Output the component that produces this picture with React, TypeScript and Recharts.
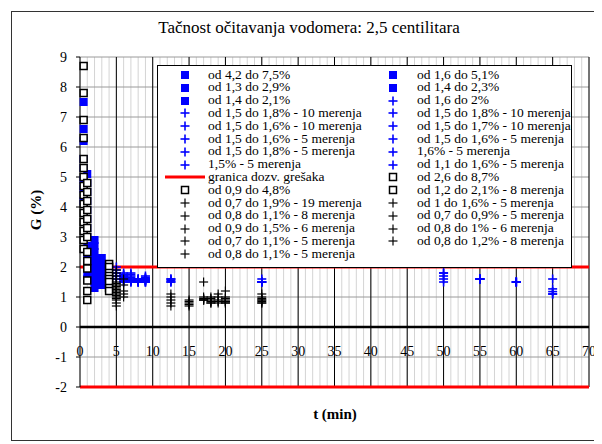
import React from 'react';
import { ScatterChart, Scatter, XAxis, YAxis, CartesianGrid, ReferenceLine } from 'recharts';

// x ticks (labelled every 5 min) and y ticks
const xLabelTicks = [0, 5, 10, 15, 20, 25, 30, 35, 40, 45, 50, 55, 60, 65, 70];
const yTicks = [-2, -1, 0, 1, 2, 3, 4, 5, 6, 7, 8, 9];
const limitValues = [2, -2];

// blue filled squares
const bs42_75 = [[0.5, 7.5], [0.5, 6.6], [0.5, 6.2], [0.5, 5.6], [0.5, 5.3], [0.5, 4.9], [0.5, 4.6], [0.5, 4.2]];
const bs16_51 = [[1, 5.1], [1, 4.8], [1, 4.5], [1, 4.2], [1, 3.9], [1, 3.6], [1, 3.3], [1, 3.0], [1, 2.7], [1, 2.4], [1, 2.1], [1, 1.8], [1, 1.6]];
const bs13_29 = [[2, 2.9], [2, 2.7], [2, 2.5], [2, 2.3], [2, 2.1], [2, 1.9], [2, 1.7], [2, 1.5], [2, 1.3]];
const bs14_23 = [[3, 2.3], [3, 2.1], [3, 1.9], [3, 1.8], [3, 1.6], [3, 1.5], [3, 1.4]];
const bs14_21 = [[4, 2.1], [4, 1.9], [4, 1.8], [4, 1.6], [4, 1.5], [4, 1.4]];

// blue pluses
const bp16_20 = [[5, 2.0], [5, 1.9], [5, 1.8], [5, 1.7], [5, 1.6]];
const bp15_18a = [[6, 1.8], [6, 1.75], [6, 1.7], [6, 1.7], [6, 1.65], [6, 1.6], [6, 1.6], [6, 1.55], [6, 1.5], [6, 1.5]];
const bp15_18b = [[7, 1.8], [7, 1.75], [7, 1.7], [7, 1.65], [7, 1.6], [7, 1.6], [7, 1.55], [7, 1.55], [7, 1.5], [7, 1.5]];
const bp15_16a = [[8, 1.6], [8, 1.6], [8, 1.6], [8, 1.55], [8, 1.55], [8, 1.55], [8, 1.5], [8, 1.5], [8, 1.5], [8, 1.5]];
const bp15_17 = [[9, 1.7], [9, 1.65], [9, 1.6], [9, 1.6], [9, 1.6], [9, 1.55], [9, 1.55], [9, 1.5], [9, 1.5], [9, 1.5]];
const bp15_16b = [[12.5, 1.6], [12.5, 1.6], [12.5, 1.55], [12.5, 1.5], [12.5, 1.5]];
const bp15_16c = [[25, 1.6], [25, 1.5], [25, 1.5], [25, 1.5], [25, 1.5]];
const bp15_18c = [[50, 1.8], [50, 1.8], [50, 1.7], [50, 1.6], [50, 1.5]];
const bp16 = [[55, 1.6], [55, 1.6], [55, 1.6], [55, 1.6], [55, 1.6]];
const bp15 = [[60, 1.5], [60, 1.5], [60, 1.5], [60, 1.5], [60, 1.5]];
const bp11_16 = [[65, 1.6], [65, 1.27], [65, 1.18], [65, 1.1], [65, 1.1]];

// black open squares
const ks26_87 = [[0.5, 8.7], [0.5, 7.8], [0.5, 6.9], [0.5, 6.3], [0.5, 5.6], [0.5, 5.3], [0.5, 5.0], [0.5, 4.7], [0.5, 4.4], [0.5, 4.1], [0.5, 3.8], [0.5, 3.5], [0.5, 3.2], [0.5, 2.9], [0.5, 2.6]];
const ks09_48 = [[1, 4.8], [1, 4.5], [1, 4.2], [1, 3.9], [1, 3.6], [1, 3.3], [1, 3.0], [1, 2.5], [1, 2.2], [1, 1.95], [1, 1.55], [1, 1.2], [1, 0.9]];
const ks12_21 = [[4, 2.1], [4, 2.0], [4, 1.8], [4, 1.7], [4, 1.6], [4, 1.5], [4, 1.3], [4, 1.2]];

// black pluses
const kp07_19 = [[5, 1.9], [5, 1.8], [5, 1.7], [5, 1.6], [5, 1.5], [5, 1.45], [5, 1.4], [5, 1.35], [5, 1.3], [5, 1.25], [5, 1.2], [5, 1.15], [5, 1.1], [5, 1.05], [5, 1.0], [5, 0.95], [5, 0.9], [5, 0.8], [5, 0.7]];
const kp10_16 = [[6, 1.6], [6, 1.4], [6, 1.2], [6, 1.1], [6, 1.0]];
const kp08_11a = [[25, 1.1], [25, 1.0], [25, 0.95], [25, 0.9], [25, 0.9], [25, 0.85], [25, 0.8], [25, 0.8]];
const kp07_09 = [[15, 0.9], [15, 0.85], [15, 0.8], [15, 0.75], [15, 0.7]];
const kp09_15 = [[17, 1.5], [17, 1.0], [17, 0.95], [17, 0.9], [17, 0.9], [17, 0.9]];
const kp08_10 = [[18, 1.0], [18, 0.95], [18, 0.9], [18, 0.85], [18, 0.8], [18, 0.8]];
const kp07_11 = [[12.5, 1.1], [12.5, 1.0], [12.5, 0.9], [12.5, 0.8], [12.5, 0.7]];
const kp08_12 = [[20, 1.2], [20, 1.0], [20, 0.95], [20, 0.9], [20, 0.85], [20, 0.85], [20, 0.8], [20, 0.8]];
const kp08_11b = [[19, 1.1], [19, 1.0], [19, 0.9], [19, 0.85], [19, 0.8]];

const BLUE = '#0000ff';
const RED = '#ff0000';
const FONT = 'Liberation Serif';

const toPts = (arr: number[][]) => arr.map(([t, g]) => ({ t, g }));

const BlueSquare = (p: any) => <rect x={p.cx - 4} y={p.cy - 4} width={8} height={8} fill={BLUE} />;
const OpenSquare = (p: any) => (
  <rect x={p.cx - 3.5} y={p.cy - 3.5} width={7} height={7} fill="#fff" stroke="#000" strokeWidth={1.5} />
);
const plus = (color: string, w: number) => (p: any) => (
  <g stroke={color} strokeWidth={w}>
    <line x1={p.cx - 4.5} x2={p.cx + 4.5} y1={p.cy} y2={p.cy} />
    <line x1={p.cx} x2={p.cx} y1={p.cy - 4.5} y2={p.cy + 4.5} />
  </g>
);
const BluePlus = plus(BLUE, 1.6);
const BlackPlus = plus('#000', 1.2);

const blueSquares = [bs42_75, bs16_51, bs13_29, bs14_23, bs14_21];
const bluePluses = [bp16_20, bp15_18a, bp15_18b, bp15_16a, bp15_17, bp15_16b, bp15_16c, bp15_18c, bp16, bp15, bp11_16];
const blackSquares = [ks26_87, ks09_48, ks12_21];
const blackPluses = [kp07_19, kp10_16, kp08_11a, kp07_09, kp09_15, kp08_10, kp07_11, kp08_12, kp08_11b];

const minorX = Array.from({ length: 71 }, (_, i) => i);

// legend: [marker, label]
const legendLeft = [
  ['bs', 'od 4,2 do 7,5%'],
  ['bs', 'od 1,3 do 2,9%'],
  ['bs', 'od 1,4 do 2,1%'],
  ['bp', 'od 1,5 do 1,8% - 10 merenja'],
  ['bp', 'od 1,5 do 1,6% - 10 merenja'],
  ['bp', 'od 1,5 do 1,6% - 5 merenja'],
  ['bp', 'od 1,5 do 1,8% - 5 merenja'],
  ['bp', '1,5% - 5 merenja'],
  ['line', 'granica dozv. grešaka'],
  ['ks', 'od 0,9 do 4,8%'],
  ['kp', 'od 0,7 do 1,9% - 19 merenja'],
  ['kp', 'od 0,8 do 1,1% - 8 merenja'],
  ['kp', 'od 0,9 do 1,5% - 6 merenja'],
  ['kp', 'od 0,7 do 1,1% - 5 merenja'],
  ['kp', 'od 0,8 do 1,1% - 5 merenja'],
];
const legendRight = [
  ['bs', 'od 1,6 do 5,1%'],
  ['bs', 'od 1,4 do 2,3%'],
  ['bp', 'od 1,6 do 2%'],
  ['bp', 'od 1,5 do 1,8% - 10 merenja'],
  ['bp', 'od 1,5 do 1,7% - 10 merenja'],
  ['bp', 'od 1,5 do 1,6% - 5 merenja'],
  ['bp', '1,6% - 5 merenja'],
  ['bp', 'od 1,1 do 1,6% - 5 merenja'],
  ['ks', 'od 2,6 do 8,7%'],
  ['ks', 'od 1,2 do 2,1% - 8 merenja'],
  ['kp', 'od 1 do 1,6% - 5 merenja'],
  ['kp', 'od 0,7 do 0,9% - 5 merenja'],
  ['kp', 'od 0,8 do 1% - 6 merenja'],
  ['kp', 'od 0,8 do 1,2% - 8 merenja'],
];

function LegendMarker({ kind }: { kind: string }) {
  const c = { cx: 20, cy: 6 };
  return (
    <svg width={40} height={12} style={{ position: 'absolute', left: -20, top: -6, overflow: 'visible' }}>
      {kind === 'bs' && <BlueSquare {...c} />}
      {kind === 'bp' && <BluePlus {...c} />}
      {kind === 'ks' && <OpenSquare {...c} />}
      {kind === 'kp' && <BlackPlus {...c} />}
      {kind === 'line' && <line x1={0} x2={40} y1={6} y2={6} stroke={RED} strokeWidth={3} />}
    </svg>
  );
}

function LegendColumn({ items, markerX, textX }: { items: string[][]; markerX: number; textX: number }) {
  return (
    <>
      {items.map(([kind, label], i) => {
        const cy = 9 + i * 12.8;
        return (
          <React.Fragment key={i}>
            <div style={{ position: 'absolute', left: markerX, top: cy }}>
              <LegendMarker kind={kind} />
            </div>
            <div style={{ position: 'absolute', left: textX, top: cy - 6.4, height: 12.8, lineHeight: '12.8px', fontSize: 13.5, whiteSpace: 'nowrap' }}>
              {label}
            </div>
          </React.Fragment>
        );
      })}
    </>
  );
}

const fmtX = (v: number) => (xLabelTicks.includes(v) ? String(v) : '');

export default function App() {
  return (
    <div style={{ position: 'relative', width: 590, height: 436, fontFamily: FONT, color: '#000' }}>
      <div style={{ position: 'absolute', left: 3, top: 3, width: 582, height: 428, border: '1px solid #333' }} />
      <ScatterChart width={590} height={436} margin={{ top: 49, right: 9, bottom: 0, left: 0 }}>
        <CartesianGrid horizontal={false} stroke="#d4d4d4" verticalValues={minorX} />
        <CartesianGrid vertical={false} stroke="#9a9a9a" />
        <XAxis
          type="number"
          dataKey="t"
          domain={[0, 70]}
          ticks={minorX}
          interval={0}
          height={57}
          axisLine={false}
          tickLine={false}
          tickSize={0}
          tickMargin={0}
          tickFormatter={fmtX}
          tick={{ fill: '#000', fontSize: 14, fontFamily: FONT, dy: -41 }}
        />
        <YAxis
          type="number"
          dataKey="g"
          domain={[-2, 9]}
          ticks={yTicks}
          interval={0}
          width={72}
          axisLine={{ stroke: '#000' }}
          tickLine={{ stroke: '#000' }}
          tickSize={4}
          tickMargin={9}
          tick={{ fill: '#000', fontSize: 14, fontFamily: FONT }}
        />
        {xLabelTicks.slice(1).map((v) => (
          <ReferenceLine key={'v' + v} x={v} stroke="#000" strokeWidth={1} />
        ))}
        <ReferenceLine y={0} stroke="#000" strokeWidth={2.5} />
        {limitValues.map((v) => (
          <ReferenceLine key={'l' + v} y={v} stroke={RED} strokeWidth={3} />
        ))}
        {blueSquares.map((s, i) => (
          <Scatter key={'bs' + i} data={toPts(s)} shape={BlueSquare} isAnimationActive={false} />
        ))}
        {bluePluses.map((s, i) => (
          <Scatter key={'bp' + i} data={toPts(s)} shape={BluePlus} isAnimationActive={false} />
        ))}
        {blackSquares.map((s, i) => (
          <Scatter key={'ks' + i} data={toPts(s)} shape={OpenSquare} isAnimationActive={false} />
        ))}
        {blackPluses.map((s, i) => (
          <Scatter key={'kp' + i} data={toPts(s)} shape={BlackPlus} isAnimationActive={false} />
        ))}
      </ScatterChart>

      <div style={{ position: 'absolute', left: 301, top: 20, transform: 'translate(-50%, -50%)', fontSize: 17, whiteSpace: 'nowrap' }}>
        Tačnost očitavanja vodomera: 2,5 centilitara
      </div>
      <div
        style={{
          position: 'absolute',
          left: 28,
          top: 202,
          transform: 'translate(-50%, -50%) rotate(-90deg)',
          fontSize: 15,
          fontWeight: 'bold',
          whiteSpace: 'nowrap',
        }}
      >
        G (%)
      </div>
      <div style={{ position: 'absolute', left: 327, top: 406, transform: 'translate(-50%, -50%)', fontSize: 15, fontWeight: 'bold', whiteSpace: 'nowrap' }}>
        t (min)
      </div>

      <div
        style={{
          position: 'absolute',
          left: 149,
          top: 57,
          width: 413,
          height: 201,
          border: '1px solid #000',
          background: '#fff',
        }}
      >
        <LegendColumn items={legendLeft} markerX={27} textX={50} />
        <LegendColumn items={legendRight} markerX={235} textX={259} />
      </div>
    </div>
  );
}
